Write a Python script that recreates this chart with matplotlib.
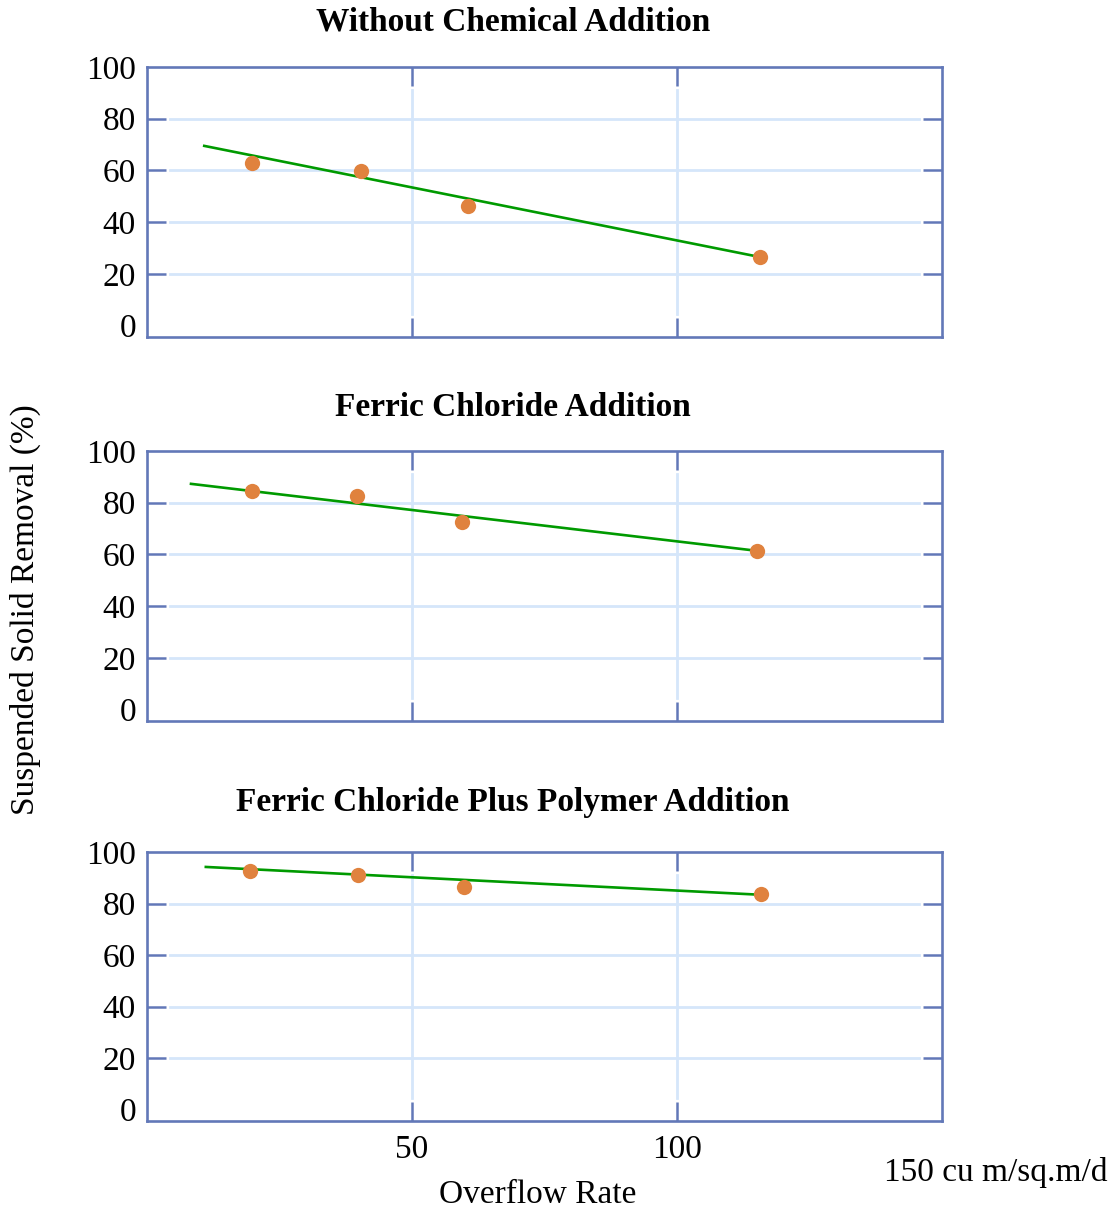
import matplotlib
matplotlib.use("Agg")
import matplotlib.pyplot as plt
import matplotlib.transforms as mtransforms

plt.rcParams['font.family'] = ['Liberation Serif', 'DejaVu Serif']

titles = ["Without Chemical Addition",
          "Ferric Chloride Addition",
          "Ferric Chloride Plus Polymer Addition"]

# measured points (overflow rate, % removal)
pts_x = [[19.8, 40.4, 60.6, 115.7],
         [19.8, 39.6, 59.4, 115.1],
         [19.4, 39.8, 59.8, 115.8]]
pts_y = [[62.9, 59.8, 46.2, 26.5],
         [84.5, 82.6, 72.6, 61.4],
         [92.6, 91.1, 86.4, 83.7]]

# fitted trend lines (end points)
line_x = [[10.8, 115.7],
          [8.3, 115.1],
          [11.1, 115.8]]
line_y = [[69.5, 26.5],
          [87.3, 61.4],
          [94.2, 83.4]]

y_ticks = [0, 20, 40, 60, 80, 100]
x_ticks = [50, 100]
x_tick_labels = ["50", "100"]

frame_c = "#6278b8"
grid_c = "#d5e6fa"
dot_c = "#e0823e"
line_c = "#009a00"

FS = 24

W, H = 1119, 1215
fig = plt.figure(figsize=(W / 100, H / 100), dpi=100)

left = 147 / W
width = 795 / W
tops = [67, 451, 852]
bottoms = [337, 721, 1121]
title_y = [22, 407, 803]

for i in range(3):
    ax = fig.add_axes([left, 1 - bottoms[i] / H, width, (bottoms[i] - tops[i]) / H])
    ax.set_xlim(0, 150)
    ax.set_ylim(-4.4, 100)

    # grid lines with gaps near the ticks
    tr_h = mtransforms.blended_transform_factory(ax.transAxes, ax.transData)
    tr_v = mtransforms.blended_transform_factory(ax.transData, ax.transAxes)
    for yv in [20, 40, 60, 80]:
        ax.plot([0.029, 0.971], [yv, yv], transform=tr_h, color=grid_c, lw=2.0, zorder=0)
    for xv in x_ticks:
        ax.plot([xv, xv], [0.085, 0.915], transform=tr_v, color=grid_c, lw=2.0, zorder=0)

    ax.plot(line_x[i], line_y[i], color=line_c, lw=1.9, zorder=2)
    ax.plot(pts_x[i], pts_y[i], 'o', color=dot_c, ms=11, mec='none', zorder=3)

    for s in ax.spines.values():
        s.set_color(frame_c)
        s.set_linewidth(1.9)

    ax.set_yticks(y_ticks)
    ax.set_yticklabels([str(v) for v in y_ticks])
    ax.set_xticks(x_ticks)
    ax.tick_params(axis='both', direction='in', length=14, width=1.8, color=frame_c,
                   top=True, right=True, labelsize=FS)
    ax.tick_params(axis='y', pad=8)
    for t in ax.yaxis.get_major_ticks():
        if t.get_loc() in (0, 100):
            t.tick1line.set_visible(False)
            t.tick2line.set_visible(False)
    if i < 2:
        ax.set_xticklabels([])
    else:
        ax.set_xticklabels(x_tick_labels)
        ax.tick_params(axis='x', pad=10)

    fig.text(513 / W, 1 - title_y[i] / H, titles[i], ha='center', va='center',
             fontsize=FS, fontweight='bold')

fig.text(25 / W, 1 - 610 / H, "Suspended Solid Removal (%)", rotation=90,
         ha='center', va='center', fontsize=FS)
fig.text(538 / W, 1 - 1195 / H, "Overflow Rate", ha='center', va='center', fontsize=FS)
fig.text(996 / W, 1 - 1172 / H, "150 cu m/sq.m/d", ha='center', va='center', fontsize=FS)

fig.savefig("out.png", dpi=100)
